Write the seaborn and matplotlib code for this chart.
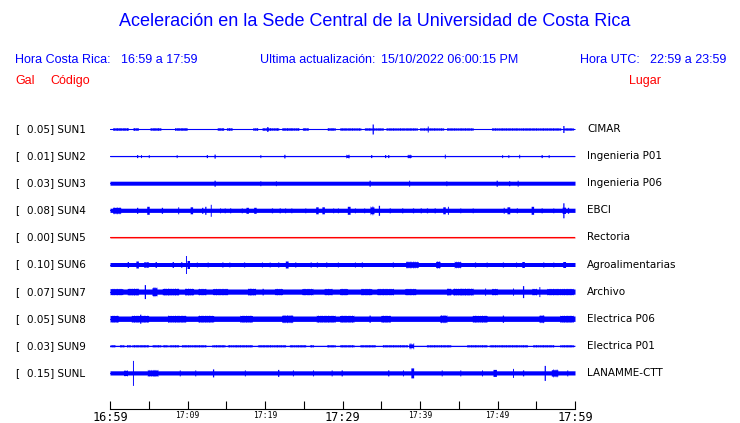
import numpy as np
import pandas as pd
import matplotlib
matplotlib.use("Agg")
import matplotlib.pyplot as plt
import seaborn as sns

# ---------------- data ----------------
codes = ["SUN1", "SUN2", "SUN3", "SUN4", "SUN5", "SUN6", "SUN7", "SUN8", "SUN9", "SUNL"]
places = ["CIMAR", "Ingenieria P01", "Ingenieria P06", "EBCI", "Rectoria",
          "Agroalimentarias", "Archivo", "Electrica P06", "Electrica P01", "LANAMME-CTT"]
gal = [0.05, 0.01, 0.03, 0.08, 0.00, 0.10, 0.07, 0.05, 0.03, 0.15]
trace_colors = ["blue", "blue", "blue", "blue", "red", "blue", "blue", "blue", "blue", "blue"]

# base half-amplitude of each trace (reference pixels)
base_half = [0.5, 0.5, 2.0, 2.1, 0.5, 2.0, 2.6, 2.7, 0.5, 2.1]

# bursts: (start minute, end minute, half-amplitude in reference pixels)
bursts_sun1 = [(0.4, 2.3, 1.5), (3.0, 3.6, 1.5), (5.2, 6.5, 1.5), (8.4, 9.9, 1.5), (13.9, 14.6, 1.5),
               (15.1, 15.7, 1.5), (18.5, 19.0, 1.5), (19.7, 21.7, 1.5), (22.2, 24.3, 1.5),
               (24.9, 25.5, 1.5), (28.1, 29.0, 1.5), (29.7, 32.3, 1.4), (32.9, 35.2, 1.4),
               (35.7, 39.6, 1.4), (40.0, 43.0, 1.4), (43.5, 46.8, 1.4), (49.3, 58.1, 1.4),
               (58.5, 59.7, 1.4), (20.3, 20.3, 2.5), (33.9, 33.9, 5.0), (41.0, 41.0, 3.0),
               (58.5, 58.5, 3.5)]
bursts_sun2 = [(3.5, 3.5, 1.5), (4.0, 4.0, 1.5), (5.0, 5.0, 1.5), (8.6, 8.6, 1.5), (12.5, 12.5, 1.5),
               (13.5, 13.5, 2.0), (19.4, 19.4, 1.5), (22.5, 22.5, 1.8), (30.5, 30.8, 2.0),
               (33.7, 33.7, 1.5), (35.5, 35.5, 1.5), (35.9, 35.9, 1.5), (38.4, 38.8, 2.0),
               (43.2, 43.2, 2.0), (50.6, 50.6, 1.5), (51.4, 51.4, 1.5), (52.8, 52.8, 1.8),
               (55.7, 55.7, 1.5), (56.6, 56.6, 1.5)]
bursts_sun3 = [(13.5, 13.5, 3.0), (19.4, 19.4, 2.5), (21.4, 21.4, 2.5), (33.5, 33.5, 3.0),
               (38.6, 38.6, 3.0), (43.4, 43.4, 2.5), (49.9, 49.9, 3.0), (51.5, 51.5, 2.5),
               (52.6, 52.6, 3.0)]
bursts_sun4 = [(0.4, 1.3, 3.5), (3.5, 3.5, 3.0), (4.8, 5.0, 4.0), (6.7, 6.7, 3.0), (8.8, 8.8, 3.5),
               (10.4, 10.6, 3.5), (11.9, 11.9, 3.0), (12.3, 12.3, 4.0), (13.0, 13.0, 6.0),
               (14.2, 14.2, 2.5), (14.8, 14.8, 2.5), (15.5, 15.5, 2.5), (17.0, 17.0, 2.5),
               (17.6, 17.8, 3.0), (18.6, 18.8, 3.0), (20.9, 20.9, 2.5), (21.9, 21.9, 2.5),
               (22.6, 22.6, 2.5), (23.4, 23.4, 2.5), (25.2, 25.2, 2.5), (26.6, 26.8, 3.5),
               (27.4, 27.6, 3.5), (28.8, 28.8, 2.5), (29.4, 29.4, 2.5), (30.7, 30.9, 4.0),
               (31.6, 31.6, 2.5), (32.8, 32.8, 2.5), (33.6, 34.0, 4.5), (34.7, 34.7, 5.0),
               (36.1, 36.1, 2.5), (37.7, 37.7, 2.5), (39.1, 39.1, 2.5), (40.1, 40.1, 2.5),
               (40.9, 40.9, 2.5), (41.9, 41.9, 2.5), (43.0, 43.2, 3.5), (43.6, 43.6, 4.0),
               (45.2, 45.2, 2.5), (46.8, 46.8, 2.5), (50.8, 50.8, 3.0), (51.3, 51.5, 3.5),
               (52.5, 52.5, 2.5), (54.4, 54.6, 4.0), (55.7, 55.7, 2.5), (57.2, 57.2, 2.5),
               (58.5, 58.5, 7.5), (58.4, 58.7, 4.0), (59.1, 59.1, 3.0)]
bursts_sun5 = []
bursts_sun6 = [(2.3, 2.3, 3.0), (3.4, 3.6, 3.5), (4.4, 4.9, 3.0), (5.9, 5.9, 3.0), (8.1, 8.1, 3.0),
               (9.2, 9.2, 3.0), (9.8, 9.8, 9.0), (10.0, 10.2, 4.0), (11.2, 11.2, 2.5),
               (12.6, 12.6, 2.5), (14.5, 14.5, 2.5), (15.4, 15.4, 2.5), (17.3, 17.3, 2.5),
               (19.6, 19.6, 2.5), (20.6, 20.6, 2.5), (21.7, 21.7, 2.5), (22.7, 22.9, 3.5),
               (23.9, 23.9, 2.5), (25.9, 25.9, 2.5), (26.7, 26.7, 2.5), (27.9, 27.9, 2.5),
               (29.4, 29.4, 2.5), (31.6, 31.6, 2.5), (32.5, 32.5, 2.5), (36.5, 36.5, 2.5),
               (38.2, 39.7, 3.5), (42.1, 42.5, 4.0), (44.5, 45.2, 3.5), (47.1, 47.1, 2.5),
               (48.6, 48.6, 2.5), (50.7, 50.7, 2.5), (52.4, 52.4, 2.5), (53.2, 53.4, 3.0),
               (55.9, 55.9, 2.5), (57.2, 57.2, 2.5), (58.5, 58.7, 3.0)]
bursts_sun7 = [(0.0, 1.6, 3.3), (2.3, 3.6, 3.6), (4.5, 4.5, 7.0), (5.5, 6.0, 5.0), (6.8, 8.8, 3.6),
               (9.7, 10.7, 3.6), (11.4, 12.3, 3.3), (13.3, 15.1, 3.3), (17.8, 18.7, 3.6),
               (19.7, 19.7, 3.3), (21.3, 22.2, 3.3), (24.8, 26.1, 3.3), (27.7, 28.6, 3.3),
               (29.7, 30.6, 3.3), (32.4, 33.7, 3.3), (34.5, 36.5, 3.3), (38.1, 39.4, 3.3),
               (43.5, 43.9, 3.6), (44.3, 46.8, 3.6), (48.4, 48.4, 3.6), (49.3, 49.9, 3.3),
               (52.0, 52.0, 3.6), (53.3, 53.3, 6.0), (54.5, 55.0, 3.3), (55.4, 55.4, 5.0),
               (56.4, 59.7, 3.3)]
bursts_sun8 = [(0.0, 1.0, 3.6), (2.8, 4.9, 3.6), (3.9, 3.9, 4.5), (7.5, 9.7, 3.6), (11.4, 13.3, 3.6),
               (16.8, 18.3, 3.6), (22.2, 23.5, 4.0), (26.7, 29.0, 3.6), (29.7, 31.4, 3.6),
               (33.5, 33.5, 3.6), (35.0, 36.1, 3.6), (42.6, 43.4, 4.0), (46.8, 48.6, 3.6),
               (50.7, 50.7, 3.6), (55.4, 55.9, 4.0), (58.1, 59.7, 3.6)]
bursts_sun9 = [(0.0, 0.6, 1.3), (1.3, 1.7, 1.3), (2.2, 2.6, 1.3), (2.9, 4.9, 1.3), (5.5, 6.5, 1.3),
               (6.8, 7.4, 1.3), (7.7, 8.8, 1.3), (9.3, 12.3, 1.3), (13.2, 14.8, 1.3),
               (15.2, 18.3, 1.3), (19.1, 22.6, 1.3), (23.2, 25.2, 1.3), (25.8, 26.2, 1.3),
               (28.0, 29.0, 1.3), (29.7, 31.4, 1.3), (32.3, 34.2, 1.3), (35.2, 38.3, 1.3),
               (38.6, 39.1, 3.0), (40.9, 43.9, 1.3), (46.1, 48.6, 1.3), (49.0, 53.8, 1.3),
               (54.6, 57.2, 1.3), (58.1, 59.7, 1.3)]
bursts_sunl = [(1.8, 2.2, 3.0), (2.96, 2.96, 12.5), (4.9, 6.1, 3.5), (9.0, 9.0, 3.0), (11.0, 11.0, 3.0),
               (13.3, 13.3, 4.0), (17.4, 17.4, 3.0), (21.7, 21.7, 3.5), (23.6, 23.6, 3.0),
               (26.2, 26.2, 3.0), (28.6, 28.6, 3.0), (29.9, 29.9, 3.0), (35.9, 35.9, 3.0),
               (37.8, 37.8, 3.0), (38.9, 39.1, 5.0), (42.8, 42.8, 3.0), (45.2, 45.2, 3.0),
               (48.0, 48.0, 3.0), (49.5, 49.8, 3.5), (52.0, 52.0, 4.5), (53.3, 53.3, 3.0),
               (56.1, 56.1, 7.5), (57.0, 57.7, 4.0), (59.0, 59.0, 3.0)]
bursts = [bursts_sun1, bursts_sun2, bursts_sun3, bursts_sun4, bursts_sun5,
          bursts_sun6, bursts_sun7, bursts_sun8, bursts_sun9, bursts_sunl]

tick_minutes = [0, 5, 10, 15, 20, 25, 30, 35, 40, 45, 50, 55, 60]
tick_labels = ["16:59", "", "17:09", "", "17:19", "", "17:29", "", "17:39", "", "17:49", "", "17:59"]
big_labels = ["16:59", "17:29", "17:59"]

title = "Aceleración en la Sede Central de la Universidad de Costa Rica"
hora_cr = "16:59 a 17:59"
hora_utc = "22:59 a 23:59"
actualizacion = "15/10/2022 06:00:15 PM"

# ---------------- drawing ----------------
sns.set_theme(style="white")
plt.rcParams["font.family"] = ["DejaVu Sans"]

W, H = 740, 423
fig = plt.figure(figsize=(W / 100, H / 100), dpi=100)
fig.patch.set_facecolor("white")

row_px = 27.1
ax_left, ax_right = 110, 575
ax_bottom_px, ax_top_px = 409, 115.5
ax = fig.add_axes([ax_left / W, (H - ax_bottom_px) / H,
                   (ax_right - ax_left) / W, (ax_bottom_px - ax_top_px) / H])
ax.set_facecolor("white")
ax.set_xlim(0, 60)
ymax = (ax_bottom_px - 129) / row_px
ax.set_ylim(ymax, -(129 - ax_top_px) / row_px)

# center lines with seaborn
df = pd.DataFrame({
    "minute": [m for _ in codes for m in (0, 60)],
    "row": [i for i in range(len(codes)) for _ in (0, 1)],
    "station": [c for c in codes for _ in (0, 1)],
})
sns.lineplot(data=df, x="minute", y="row", hue="station",
             palette=dict(zip(codes, trace_colors)), legend=False,
             linewidth=0.8, ax=ax, estimator=None)

# envelopes: narrow bursts drawn as spikes, long bursts as a jagged comb texture
step = 0.04
grid = np.arange(0, 60.0001, step)
idx = np.arange(grid.size)
comb = (idx % 6 == 0) | (idx % 11 == 0)
for i, (b, bl, col) in enumerate(zip(bursts, base_half, trace_colors)):
    env = np.full_like(grid, bl)
    for (a, e, h) in b:
        mask = (grid >= a - 0.065) & (grid <= e + 0.065)
        if e - a > 0.3:
            mid = bl + (h - bl) * 0.55
            val = np.where(comb, h, mid)
            env[mask] = np.maximum(env[mask], val[mask])
        else:
            env[mask] = np.maximum(env[mask], h)
    env = env / row_px
    ax.fill_between(grid, i - env, i + env, step="mid", color=col, linewidth=0)

for s in ["top", "left", "right"]:
    ax.spines[s].set_visible(False)
ax.spines["bottom"].set_color("black")
ax.spines["bottom"].set_linewidth(0.8)
ax.set_yticks([])
ax.set_xlabel("")
ax.set_ylabel("")
ax.grid(False)
ax.set_xticks(tick_minutes)
ax.set_xticklabels(tick_labels, family="DejaVu Sans Mono")
ax.tick_params(axis="x", direction="in", length=6, width=0.8, color="black", pad=1.2,
               bottom=True)
for lab in ax.get_xticklabels():
    if lab.get_text() in big_labels:
        lab.set_fontsize(8.6)
    else:
        lab.set_fontsize(5.8)
    lab.set_color("black")

# texts
def px(x, y):
    return x / W, 1 - y / H

fig.text(*px(375, 22), title, ha="center", va="center", color="blue",
         fontsize=13.0, family="Liberation Sans")
hdr = dict(va="center", color="blue", fontsize=9, family="Liberation Sans")
fig.text(*px(15, 60), "Hora Costa Rica:", ha="left", **hdr)
fig.text(*px(121, 60), hora_cr, ha="left", **hdr)
fig.text(*px(260, 60), "Ultima actualización:", ha="left", **hdr)
fig.text(*px(381, 60), actualizacion, ha="left", **hdr)
fig.text(*px(580, 60), "Hora UTC:", ha="left", **hdr)
fig.text(*px(650, 60), hora_utc, ha="left", **hdr)
red = dict(va="center", color="red", fontsize=9, family="Liberation Sans")
fig.text(*px(15, 81), "Gal", ha="left", **red)
fig.text(*px(50, 81), "Código", ha="left", **red)
fig.text(*px(629, 81), "Lugar", ha="left", **red)

lab = dict(va="center", color="black", fontsize=7.5, family="DejaVu Sans")
for i, (c, p, g) in enumerate(zip(codes, places, gal)):
    y = 129 + i * row_px
    fig.text(*px(15, y), "[", ha="left", **lab)
    fig.text(*px(27, y), f"{g:.2f}] {c}", ha="left", **lab)
    fig.text(*px(587, y), p, ha="left", **lab)

fig.savefig("out.png", dpi=100, facecolor="white")
